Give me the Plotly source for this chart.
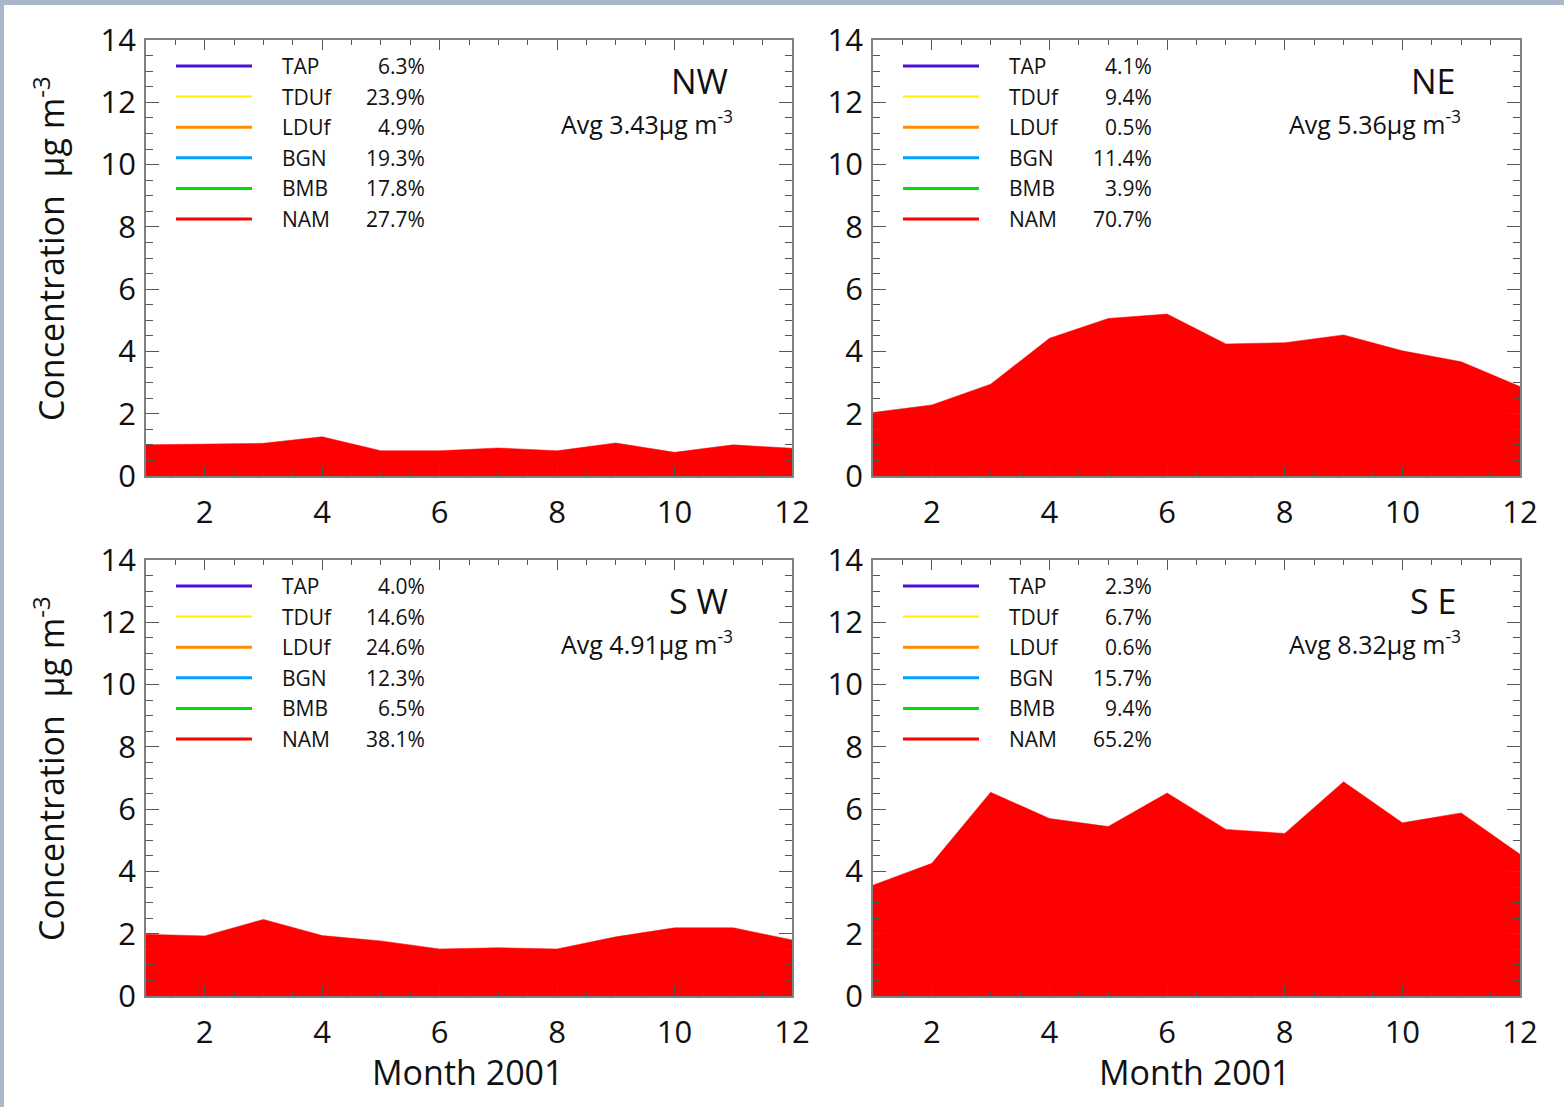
import plotly.graph_objects as go

W, H = 1564, 1107

months = list(range(1, 13))
species = ["TAP", "TDUf", "LDUf", "BGN", "BMB", "NAM"]
species_colors = ["#4a0fd8", "#ffee00", "#ff8c00", "#00a0ff", "#00e000", "#ff0000"]
species_widths = [3, 2, 3, 3, 3, 3]

regions = ["NW", "NE", "SW", "SE"]
region_labels = ["NW", "NE", "S W", "S E"]
avg_totals = ["3.43", "5.36", "4.91", "8.32"]

pct_NW = ["6.3%", "23.9%", "4.9%", "19.3%", "17.8%", "27.7%"]
pct_NE = ["4.1%", "9.4%", "0.5%", "11.4%", "3.9%", "70.7%"]
pct_SW = ["4.0%", "14.6%", "24.6%", "12.3%", "6.5%", "38.1%"]
pct_SE = ["2.3%", "6.7%", "0.6%", "15.7%", "9.4%", "65.2%"]

nam_NW = [1.00, 1.03, 1.05, 1.26, 0.81, 0.81, 0.90, 0.81, 1.06, 0.76, 1.00, 0.89]
nam_NE = [2.04, 2.28, 2.95, 4.42, 5.06, 5.20, 4.24, 4.28, 4.53, 4.02, 3.67, 2.87]
nam_SW = [1.98, 1.93, 2.46, 1.94, 1.77, 1.51, 1.55, 1.51, 1.90, 2.19, 2.19, 1.80]
nam_SE = [3.56, 4.26, 6.54, 5.70, 5.44, 6.52, 5.35, 5.22, 6.88, 5.56, 5.88, 4.55]

pcts = [pct_NW, pct_NE, pct_SW, pct_SE]
nams = [nam_NW, nam_NE, nam_SW, nam_SE]

# panel boxes in pixels (left, top, right, bottom)
boxes = [(146, 40, 792, 476), (873, 40, 1520, 476), (146, 560, 792, 996), (873, 560, 1520, 996)]

FONT = "Open Sans"

def px(x):
    return x / W

def py(y):
    return 1 - y / H

fig = go.Figure()
shapes = []
annotations = []

for i, (reg, lab, avg, pct, nam, box) in enumerate(zip(regions, region_labels, avg_totals, pcts, nams, boxes)):
    n = i + 1
    xa = "x" if n == 1 else f"x{n}"
    ya = "y" if n == 1 else f"y{n}"
    fig.add_trace(go.Scatter(
        x=months, y=nam, mode="lines", fill="tozeroy",
        fillcolor="#ff0000", line=dict(color="#ff0000", width=0.5),
        xaxis=xa, yaxis=ya, showlegend=False, name="NAM", hoverinfo="skip"))
    l, t, r, b = box
    axkw = dict(showline=True, linecolor="#808080", linewidth=1.5, mirror="allticks",
                ticks="inside", tickcolor="#555555", showgrid=False, zeroline=False,
                automargin=False, fixedrange=True,
                tickfont=dict(family=FONT, size=31, color="#111111"))
    fig.update_layout(**{
        ("xaxis" if n == 1 else f"xaxis{n}"): dict(
            domain=[px(l), px(r)], anchor=ya, range=[1, 12],
            tickmode="array", tickvals=[2, 4, 6, 8, 10, 12], ticklen=10, tickwidth=1.2,
            minor=dict(dtick=0.5, tick0=1, ticks="inside", ticklen=5, tickcolor="#555555", tickwidth=1),
            ticklabelstandoff=8, **axkw),
        ("yaxis" if n == 1 else f"yaxis{n}"): dict(
            domain=[py(b), py(t)], anchor=xa, range=[0, 14],
            tickmode="array", tickvals=[0, 2, 4, 6, 8, 10, 12, 14], ticklen=13, tickwidth=1.2,
            minor=dict(dtick=0.5, tick0=0, ticks="inside", ticklen=7, tickcolor="#555555", tickwidth=1),
            ticklabelstandoff=2, **axkw),
    })
    # legend
    for k, (sp, col, lw, pv) in enumerate(zip(species, species_colors, species_widths, pct)):
        yy = t + 26 + k * 30.6
        shapes.append(dict(type="line", xref="paper", yref="paper",
                           x0=px(l + 30), x1=px(l + 106), y0=py(yy), y1=py(yy),
                           line=dict(color=col, width=lw)))
        annotations.append(dict(xref="paper", yref="paper", x=px(l + 134), y=py(yy),
                                text=sp, showarrow=False, xanchor="left", yanchor="middle",
                                font=dict(family=FONT, size=21, color="#111111")))
        annotations.append(dict(xref="paper", yref="paper", x=px(l + 281), y=py(yy),
                                text=pv, showarrow=False, xanchor="right", yanchor="middle",
                                font=dict(family=FONT, size=21, color="#111111")))
    annotations.append(dict(xref="paper", yref="paper", x=px(r - 62), y=py(t + 41),
                            text=lab, showarrow=False, xanchor="right", yanchor="middle",
                            font=dict(family=FONT, size=34, color="#111111")))
    annotations.append(dict(xref="paper", yref="paper", x=px(r - 57), y=py(t + 82),
                            text=f"Avg {avg}µg m<sup>-3</sup>", showarrow=False,
                            xanchor="right", yanchor="middle",
                            font=dict(family=FONT, size=25, color="#111111")))
    if l < 500:
        annotations.append(dict(xref="paper", yref="paper", x=px(49), y=py((t + b) / 2 - 9),
                                text="Concentration  µg m<sup>-3</sup>", showarrow=False,
                                textangle=-90, xanchor="center", yanchor="middle",
                                font=dict(family=FONT, size=34, color="#111111")))
    if t > 500:
        annotations.append(dict(xref="paper", yref="paper", x=px((l + r) / 2 - 2), y=py(1072),
                                text="Month 2001", showarrow=False,
                                xanchor="center", yanchor="middle",
                                font=dict(family=FONT, size=34, color="#111111")))

# photo-like border strips at top and left edges
shapes.append(dict(type="rect", xref="paper", yref="paper", x0=0, x1=1, y0=py(5), y1=1,
                   fillcolor="#a8b8c8", line=dict(width=0), layer="below"))
shapes.append(dict(type="rect", xref="paper", yref="paper", x0=0, x1=px(4), y0=0, y1=1,
                   fillcolor="#a8b8c8", line=dict(width=0), layer="below"))

fig.update_layout(width=W, height=H,
                  margin=dict(l=0, r=0, t=0, b=0, pad=0, autoexpand=False),
                  paper_bgcolor="white", plot_bgcolor="white",
                  shapes=shapes, annotations=annotations, showlegend=False)

post = ("document.body.style.margin='0';document.body.style.overflow='hidden';"
        "var gd=document.getElementById('{plot_id}');gd.style.position='absolute';"
        "gd.style.top='0px';gd.style.left='0px';")

fig.write_html("out.html", post_script=post, config={"displayModeBar": False})
